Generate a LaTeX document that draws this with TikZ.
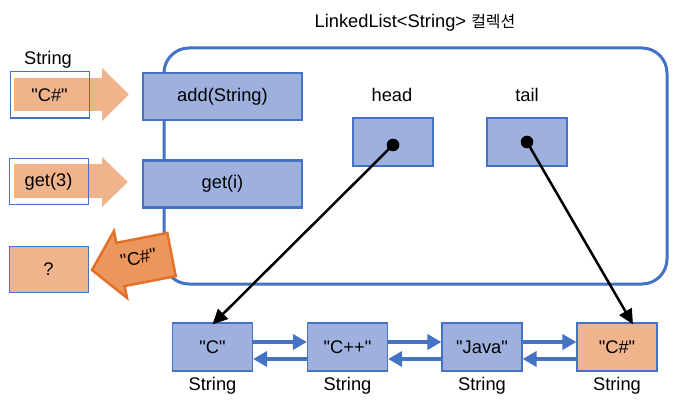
\documentclass[tikz,border=0pt]{standalone}
\usepackage{fontspec}
\setmainfont{Liberation Sans}
\newfontfamily\krfont{Noto Sans CJK KR}
\usetikzlibrary{arrows.meta,positioning}
\definecolor{lineblue}{RGB}{68,114,196}
\definecolor{boxblue}{RGB}{158,176,222}
\definecolor{lightorange}{RGB}{240,180,140}
\definecolor{darkorange}{RGB}{234,150,92}
\definecolor{edgeorange}{RGB}{228,112,42}
\newcommand{\qt}[1]{\textquotedbl#1\textquotedbl}
\tikzset{
  every node/.style={font=\fontsize{18.3}{22}\selectfont},
  container/.style={draw=lineblue, line width=3pt, rounded corners=25pt,
    minimum width=503pt, minimum height=236pt},
  method/.style={draw=lineblue, fill=boxblue, line width=2.5pt,
    minimum width=159pt, minimum height=47pt},
  field/.style={draw=lineblue, fill=boxblue, line width=1.2pt,
    minimum width=80pt, minimum height=48pt},
  elem/.style={field},
  argbox/.style={draw=lineblue, line width=1pt,
    minimum width=79pt, minimum height=46pt},
  inarrow/.style={fill=lightorange},
  outarrow/.style={fill=darkorange, draw=edgeorange, line width=2.5pt,
    line join=miter},
  typename/.style={inner sep=0pt},
  link/.style={draw=lineblue, line width=3.5pt,
    -{Triangle[length=14pt,width=15pt]}},
  pointer/.style={line width=2.5pt, -{Triangle[length=15pt,width=14pt]}},
}
\begin{document}
\begin{tikzpicture}[x=1pt,y=-1pt]
  \useasboundingbox (0,0) rectangle (678,404);
  % collection
  \node (title) at (415,23) {LinkedList<String> {\krfont\fontsize{16}{20}\selectfont 컬렉션}};
  \node[container] (list) at (415.5,166) {};
  % caller side
  \node (argtype) at (48,60) {String};
  \fill[inarrow] (14,78) -- (102,78) -- (102,68) -- (129,94.5)
    -- (102,121) -- (102,111) -- (14,111) -- cycle;
  \node[argbox] (arg) at (49.5,95) {\qt{C\#}};
  \fill[inarrow] (14,164) -- (102,164) -- (102,157) -- (128,182)
    -- (102,207) -- (102,198) -- (14,198) -- cycle;
  \node[argbox] (index) at (48.5,181.5) {get(3)};
  \node[argbox, fill=lightorange] (result) at (48.5,269) {?};
  \begin{scope}[shift={(92,270)}, rotate=11]
    \draw[outarrow] (0,0) -- (29,-34) -- (29,-22) -- (81,-22)
      -- (81,22) -- (29,22) -- (29,34) -- cycle;
    \node[rotate=11, inner sep=0pt] (retvalue) at (48,-3) {\qt{C\#}};
  \end{scope}
  % methods and fields
  \node[method] (add) at (222.5,96.5) {add(String)};
  \node[method] (get) at (222.5,184) {get(i)};
  \node (headlabel) at (392,95) {head};
  \node (taillabel) at (527,95) {tail};
  \node[field] (head) at (393,142) {};
  \node[field] (tail) at (527,142) {};
  % elements
  \node[elem] (c) at (212.5,347) {\qt{C}};
  \node[elem] (cpp) at (347.5,347) {\qt{C++}};
  \node[elem] (java) at (482,347) {\qt{Java}};
  \node[elem, fill=lightorange] (cs) at (617,347) {\qt{C\#}};
  \node[typename, below=5pt of c] (ctype) {String};
  \node[typename, below=5pt of cpp] (cpptype) {String};
  \node[typename, below=5pt of java] (javatype) {String};
  \node[typename, below=5pt of cs] (cstype) {String};
  \begin{scope}[link]
    \draw ([yshift=5pt]c.east) to ([yshift=5pt]cpp.west);
    \draw ([yshift=-12pt]cpp.west) to ([yshift=-12pt]c.east);
    \draw ([yshift=5pt]cpp.east) to ([yshift=5pt]java.west);
    \draw ([yshift=-12pt]java.west) to ([yshift=-12pt]cpp.east);
    \draw ([yshift=5pt]java.east) to ([yshift=5pt]cs.west);
    \draw ([yshift=-12pt]cs.west) to ([yshift=-12pt]java.east);
  \end{scope}
  \begin{scope}[pointer]
    \fill ([yshift=-3pt]head.center) circle (6.3pt);
    \fill (tail.center) circle (6.3pt);
    \draw ([yshift=-3pt]head.center) to ([yshift=-2pt]c.north);
    \draw (tail.center) to ([xshift=16pt,yshift=-2pt]cs.north);
  \end{scope}
\end{tikzpicture}
\end{document}
